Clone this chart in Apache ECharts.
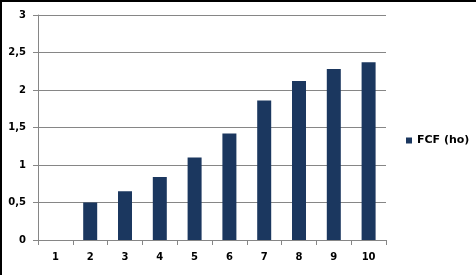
<!DOCTYPE html>
<html>
<head>
<meta charset="utf-8">
<script src="https://cdn.jsdelivr.net/npm/echarts@6/dist/echarts.min.js"></script>
<style>
html,body{margin:0;padding:0;background:#fff;}
#chart{width:476px;height:275px;}
</style>
</head>
<body>
<div id="chart"></div>
<script>
const categories = ['1','2','3','4','5','6','7','8','9','10'];
const fcfValues = [0, 0.5, 0.65, 0.84, 1.1, 1.42, 1.86, 2.12, 2.28, 2.37];
const seriesName = 'FCF (ho)';
const yTicks = {min: 0, max: 3, interval: 0.5};

const chart = echarts.init(document.getElementById('chart'));
const font = {fontFamily: 'DejaVu Sans', fontWeight: 'bold', fontSize: 10, color: '#000'};
chart.setOption({
  animation: false,
  backgroundColor: '#fff',
  grid: {left: 38, right: 90, top: 15, bottom: 35, containLabel: false},
  legend: {
    data: [seriesName],
    left: 401, top: 130,
    itemWidth: 6, itemHeight: 6,
    icon: 'rect',
    textStyle: Object.assign({}, font, {fontSize: 11})
  },
  xAxis: {
    type: 'category',
    data: categories,
    axisLine: {lineStyle: {color: '#868686', width: 1}},
    axisTick: {show: true, length: 5, lineStyle: {color: '#868686'}},
    axisLabel: Object.assign({margin: 12}, font)
  },
  yAxis: {
    type: 'value',
    min: yTicks.min, max: yTicks.max, interval: yTicks.interval,
    axisLine: {show: true, lineStyle: {color: '#868686', width: 1}},
    axisTick: {show: true, length: 5, lineStyle: {color: '#868686'}},
    splitLine: {lineStyle: {color: '#868686', width: 1}},
    axisLabel: Object.assign({margin: 12, formatter: v => String(v).replace('.', ',')}, font)
  },
  series: [{
    name: seriesName,
    type: 'bar',
    data: fcfValues,
    barWidth: 14,
    itemStyle: {color: '#1B375F'}
  }],
  graphic: [
    {type: 'rect', shape: {x: 0, y: 0, width: 2, height: 275}, style: {fill: '#000'}},
    {type: 'rect', shape: {x: 0, y: 0, width: 476, height: 2}, style: {fill: '#000'}}
  ]
});
</script>
</body>
</html>
